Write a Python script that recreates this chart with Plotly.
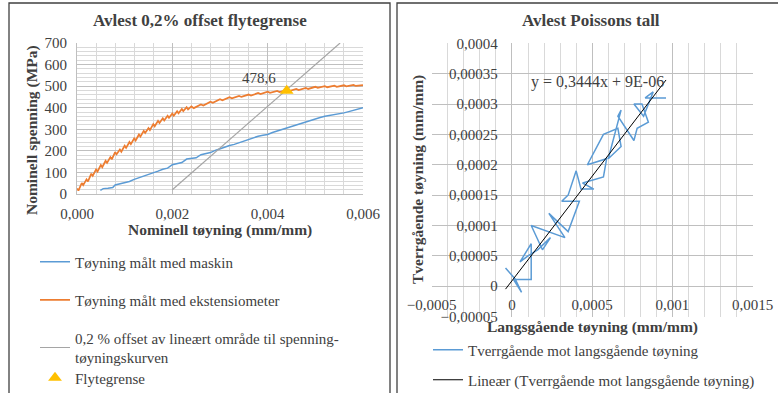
import plotly.graph_objects as go

# ---------------- Left chart data ----------------
machine_x = [0.00049, 0.00055, 0.00065, 0.00075, 0.0008, 0.0009, 0.0010, 0.0011, 0.0012, 0.0013,
             0.0014, 0.0015, 0.0016, 0.0017, 0.0018, 0.0019, 0.0020, 0.0021, 0.0022, 0.0023,
             0.0024, 0.0025, 0.0026, 0.0027, 0.0028, 0.0029, 0.0030, 0.0031, 0.0032, 0.0033,
             0.0034, 0.0035, 0.0036, 0.0037, 0.0038, 0.0039, 0.0040, 0.0041, 0.0042, 0.0043,
             0.0044, 0.0045, 0.0046, 0.0047, 0.0048, 0.0049, 0.0050, 0.0051, 0.0052, 0.0053,
             0.0054, 0.0055, 0.0056, 0.0057, 0.0058, 0.0059, 0.0060]
machine_y = [17, 25, 27, 30, 42, 47, 52, 58, 68, 75,
             82, 92, 98, 106, 115, 120, 136, 141, 146, 162,
             166, 168, 182, 188, 192, 202, 210, 220, 225, 230,
             238, 246, 255, 262, 268, 272, 276, 285, 292, 300,
             308, 315, 320, 326, 336, 342, 350, 355, 360, 364,
             366, 370, 376, 382, 388, 392, 400]

ext_x = [0.00000, 0.00003, 0.00010, 0.00013, 0.00020, 0.00023, 0.00030, 0.00033, 0.00040, 0.00043,
         0.00050, 0.00053, 0.00060, 0.00063, 0.00070, 0.00073, 0.00080, 0.00083, 0.00090, 0.00093,
         0.00100, 0.00103, 0.00110, 0.00113, 0.00120, 0.00123, 0.00130, 0.00133, 0.00140, 0.00143,
         0.00150, 0.00153, 0.00160, 0.00163, 0.00170, 0.00173, 0.00180, 0.00183, 0.00190, 0.00193,
         0.00200, 0.00203, 0.00210, 0.00213, 0.00220, 0.00223, 0.00230, 0.00233, 0.00240, 0.00245,
         0.00260, 0.00265, 0.00280, 0.00285, 0.00300, 0.00305, 0.00320, 0.00325, 0.00340, 0.00345,
         0.00360, 0.00365, 0.00380, 0.00385, 0.00400, 0.00405, 0.00420, 0.00425, 0.00440, 0.00445,
         0.00460, 0.00465, 0.00480, 0.00485, 0.00500, 0.00505, 0.00520, 0.00525, 0.00540, 0.00545,
         0.00560, 0.00565, 0.00580, 0.00585, 0.00600]
ext_y = [26, 16, 51, 41, 68, 58, 94, 84, 114, 104,
         134, 124, 154, 144, 171, 161, 194, 184, 206, 196,
         224, 214, 241, 231, 258, 248, 276, 266, 293, 283,
         306, 296, 324, 314, 339, 329, 351, 341, 363, 353,
         373, 363, 384, 374, 394, 384, 402, 392, 406, 398,
         415, 410, 428, 423, 439, 434, 449, 444, 455, 450,
         461, 456, 468, 463, 474, 469, 478, 473, 482, 477,
         487, 482, 492, 487, 497, 492, 500, 495, 502, 497,
         504, 499, 506, 501, 505]

offset_x = [0.0020, 0.00552]
offset_y = [20, 700]

yield_x = [0.0044]
yield_y = [478.6]
yield_text = "478,6"

# ---------------- Right chart data ----------------
poisson_x = [-0.00004, 0.00002, 0.00006, 0.00001, 0.00012, 0.00012, 0.00005, 0.00010, 0.00016, 0.00024,
             0.00019, 0.00012, 0.00033, 0.00023, 0.00035, 0.00042, 0.00031, 0.00035, 0.00040, 0.00043,
             0.00051, 0.00044, 0.00057, 0.00059, 0.00047, 0.00057, 0.00066, 0.00068, 0.00060, 0.00068,
             0.00066, 0.00076, 0.00078, 0.00085, 0.00081, 0.00076, 0.00082, 0.00088, 0.00083, 0.00096]
poisson_y = [0.000030, 0.000012, -0.000010, 0.000011, 0.000011, 0.000070, 0.000040, 0.000050, 0.000060, 0.000080,
             0.000060, 0.000100, 0.000080, 0.000120, 0.000090, 0.000140, 0.000140, 0.000150, 0.000190, 0.000160,
             0.000160, 0.000170, 0.000180, 0.000210, 0.000200, 0.000250, 0.000260, 0.000230, 0.000210, 0.000290,
             0.000280, 0.000240, 0.000260, 0.000270, 0.000300, 0.000300, 0.000280, 0.000320, 0.000310, 0.000310]

trend_slope = 0.3444
trend_intercept = 9e-06
trend_label = "y = 0,3444x + 9E-06"

# ---------------- Layout helpers ----------------
W, H = 778, 393


def px(x):
    return x / W


def py(y):
    return 1 - y / H


FONT = "Liberation Serif"
TXT = "#404040"
BLUE = "#5B9BD5"
ORANGE = "#ED7D31"
GRAY = "#A5A5A5"
GOLD = "#FFC000"
GRID = "#bfbfbf"
MINOR = "#d9d9d9"

trend_x = [min(poisson_x), max(poisson_x)]
trend_y = [trend_slope * v + trend_intercept for v in trend_x]

fig = go.Figure()

fig.add_trace(go.Scatter(x=machine_x, y=machine_y, mode="lines", name="Tøyning målt med maskin",
                         line=dict(color=BLUE, width=1.5), xaxis="x", yaxis="y", legend="legend"))
fig.add_trace(go.Scatter(x=ext_x, y=ext_y, mode="lines", name="Tøyning målt med ekstensiometer",
                         line=dict(color=ORANGE, width=1.75), xaxis="x", yaxis="y", legend="legend2"))
fig.add_trace(go.Scatter(x=offset_x, y=offset_y, mode="lines",
                         name="0,2 % offset av lineært område til spenning-<br>tøyningskurven",
                         line=dict(color=GRAY, width=1.2), xaxis="x", yaxis="y", legend="legend3"))
fig.add_trace(go.Scatter(x=yield_x, y=yield_y, mode="markers", name="Flytegrense",
                         marker=dict(symbol="triangle-up", size=12, color=GOLD),
                         xaxis="x", yaxis="y", legend="legend4"))

fig.add_trace(go.Scatter(x=poisson_x, y=poisson_y, mode="lines", name="Tverrgående mot langsgående tøyning",
                         line=dict(color=BLUE, width=1.5), xaxis="x2", yaxis="y2", legend="legend5"))
fig.add_trace(go.Scatter(x=trend_x, y=trend_y, mode="lines",
                         name="Lineær (Tverrgående mot langsgående tøyning)",
                         line=dict(color="#000000", width=1), xaxis="x2", yaxis="y2", legend="legend6"))

axis_common = dict(showgrid=True, gridcolor=GRID, gridwidth=1, ticks="outside", automargin=False,
                   tickcolor="rgba(0,0,0,0)", tickfont=dict(family=FONT, size=15, color=TXT),
                   fixedrange=True)

fig.update_layout(
    width=W, height=H,
    margin=dict(l=0, r=0, t=0, b=0, autoexpand=False),
    paper_bgcolor="white", plot_bgcolor="white",
    font=dict(family=FONT, size=15, color=TXT),
    separators=", ",
    showlegend=True,
    xaxis=dict(domain=[px(77), px(363)], range=[0, 0.006], tick0=0, dtick=0.002, tickformat=".3f",
               anchor="y", ticklen=6, showline=True, linecolor=GRID, zeroline=False,
               minor=dict(dtick=0.0004, tick0=0, showgrid=True, gridcolor=MINOR),
               **axis_common),
    yaxis=dict(domain=[py(194), py(43)], range=[0, 700], tick0=0, dtick=100,
               anchor="x", ticklen=6, showline=True, linecolor=GRID, zeroline=False,
               minor=dict(dtick=20, tick0=0, showgrid=True, gridcolor=MINOR),
               **axis_common),
    xaxis2=dict(domain=[px(431.7), px(752.7)], range=[-0.0005, 0.0015], tick0=0, dtick=0.0005,
                tickformat="~g", anchor="free", position=py(286), ticklen=5,
                zeroline=True, zerolinecolor=GRID, zerolinewidth=1, showline=False,
                minor=dict(dtick=0.0001, tick0=0, showgrid=True, gridcolor=MINOR),
                **axis_common),
    yaxis2=dict(domain=[py(316.6), py(43.3)], range=[-0.00005, 0.0004], tick0=0, dtick=0.00005,
                tickformat="~g", anchor="free", position=px(511.7), ticklen=11,
                zeroline=True, zerolinecolor=GRID, zerolinewidth=1, showline=False,
                **axis_common),
)

leg_common = dict(xanchor="left", yanchor="middle", bgcolor="rgba(0,0,0,0)",
                  font=dict(family=FONT, size=15, color=TXT), itemwidth=30)
fig.update_layout(
    legend=dict(x=px(35), y=py(262), **leg_common),
    legend2=dict(x=px(35), y=py(300), **leg_common),
    legend3=dict(x=px(35), y=py(347.5), **leg_common),
    legend4=dict(x=px(35), y=py(378), **leg_common),
    legend5=dict(x=px(428), y=py(350), **leg_common),
    legend6=dict(x=px(428), y=py(380), **leg_common),
)

TITLE_FONT = dict(family=FONT, size=17, color=TXT)
AXT_FONT = dict(family=FONT, size=15.5, color=TXT)
annotations = [
    dict(text="<b>Avlest 0,2% offset flytegrense</b>", x=px(200), y=py(21), xref="paper", yref="paper",
         showarrow=False, font=TITLE_FONT, xanchor="center", yanchor="middle"),
    dict(text="<b>Avlest Poissons tall</b>", x=px(591), y=py(21), xref="paper", yref="paper",
         showarrow=False, font=TITLE_FONT, xanchor="center", yanchor="middle"),
    # axis titles
    dict(text="<b>Nominell tøyning (mm/mm)</b>", x=px(220), y=py(230), xref="paper", yref="paper",
         showarrow=False, font=AXT_FONT, xanchor="center", yanchor="middle"),
    dict(text="<b>Nominell spenning (MPa)</b>", x=px(32), y=py(130), xref="paper", yref="paper",
         showarrow=False, textangle=-90, font=AXT_FONT, xanchor="center", yanchor="middle"),
    dict(text="<b>Langsgående tøyning (mm/mm)</b>", x=px(592), y=py(327), xref="paper", yref="paper",
         showarrow=False, font=AXT_FONT, xanchor="center", yanchor="middle"),
    dict(text="<b>Tverrgående tøyning (mm/mm)</b>", x=px(418), y=py(180), xref="paper", yref="paper",
         showarrow=False, textangle=-90, font=AXT_FONT, xanchor="center", yanchor="middle"),
    # data labels
    dict(text=yield_text, x=yield_x[0], y=yield_y[0], xref="x", yref="y", showarrow=False,
         font=dict(family=FONT, size=15, color=TXT), xanchor="right", yanchor="middle",
         xshift=-9, yshift=13),
    dict(text=trend_label, x=0.000531, y=0.000337, xref="x2", yref="y2", showarrow=False,
         font=dict(family=FONT, size=16, color=TXT), xanchor="center", yanchor="middle"),
]
fig.update_layout(annotations=annotations)

shapes = [
    dict(type="rect", xref="paper", yref="paper", x0=px(9), x1=px(390), y0=-0.05, y1=py(3),
         line=dict(color="#404040", width=1.3), fillcolor="rgba(0,0,0,0)", layer="above"),
    dict(type="rect", xref="paper", yref="paper", x0=px(397), x1=1.05, y0=-0.05, y1=py(3),
         line=dict(color="#404040", width=1.3), fillcolor="rgba(0,0,0,0)", layer="above"),
]
fig.update_layout(shapes=shapes)

fig.write_html("out.html", config={"displayModeBar": False},
               post_script="document.body.style.margin='0px';document.body.style.overflow='hidden';")
